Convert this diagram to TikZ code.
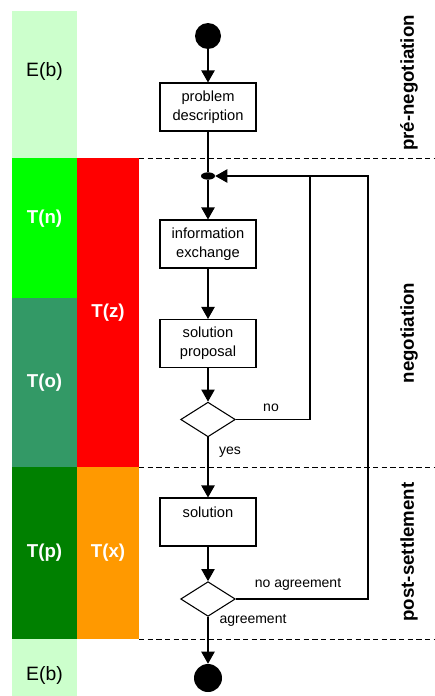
\documentclass[tikz,border=0pt]{standalone}
\usepackage{fontspec}
\setmainfont{Liberation Sans}
\usetikzlibrary{shapes.geometric, arrows.meta, positioning, calc}
\definecolor{ebpale}{HTML}{CCFFCC}
\definecolor{tnlime}{HTML}{00FF00}
\definecolor{toteal}{HTML}{339966}
\definecolor{tzred}{HTML}{FF0000}
\definecolor{tpgreen}{HTML}{008000}
\definecolor{txorange}{HTML}{FF9900}

\begin{document}
\begin{tikzpicture}[x=0.75pt, y=-0.75pt,
    activity/.style={rectangle, draw=black, line width=0.8pt, minimum width=72pt, minimum height=36pt, inner sep=1pt, align=center, font=\fontsize{11}{14.5}\selectfont},
    decision/.style={diamond, draw=black, line width=0.8pt, minimum width=41pt, minimum height=26pt, inner sep=0pt},
    terminal/.style={circle, fill=black, minimum size=#1, inner sep=0pt},
    merge/.style={ellipse, fill=black, minimum width=10.5pt, minimum height=5.5pt, inner sep=0pt},
    flow/.style={-{Triangle[length=9pt, width=10pt]}, line width=0.8pt},
    line/.style={line width=0.8pt},
    phase/.style={font=\fontsize{14}{16}\selectfont\bfseries, rotate=90},
    band/.style={font=\fontsize{14}{16}\selectfont\bfseries, text=white},
    eband/.style={font=\fontsize{14.5}{16}\selectfont},
    cond/.style={font=\fontsize{10.5}{12}\selectfont},
    divider/.style={dash pattern=on 4pt off 2.5pt, line width=0.75pt}
]
\useasboundingbox (0,0) rectangle (435,696);

% Colour bands
\fill[ebpale] (12,11) rectangle (77,158);
\fill[tnlime] (12,158) rectangle (77,298);
\fill[toteal] (12,298) rectangle (77,467);
\fill[tzred] (77,158) rectangle (139,467);
\fill[tpgreen] (12,467) rectangle (77,639);
\fill[txorange] (77,467) rectangle (139,639);
\fill[ebpale] (12,639) rectangle (77,696);

\node[eband] (ebtop) at (44.5,71) {E(b)};
\node[band] (tn) at (44.5,219) {T(n)};
\node[band] (to) at (44.5,383) {T(o)};
\node[band] (tz) at (108,313) {T(z)};
\node[band] (tp) at (44.5,553) {T(p)};
\node[band] (tx) at (108,553) {T(x)};
\node[eband] (ebbot) at (44.5,675) {E(b)};

% Phase dividers
\draw[divider] (139,158) -- (435,158);
\draw[divider] (139,467) -- (435,467);
\draw[divider] (139,639) -- (435,639);

\node[phase] (pre) at (409,83) {pré-negotiation};
\node[phase] (nego) at (409,333) {negotiation};
\node[phase] (post) at (409,552) {post-settlement};

% Activities
\node[terminal=19.5pt] (start) at (208,36) {};
\node[activity] (problem) at (208,107) {problem\\description};
\node[merge] (join) at (208,176) {};
\node[activity] (info) at (208,244) {information\\exchange};
\node[activity] (proposal) at (208,343.5) {solution\\proposal};
\node[decision] (check) at (208,419.5) {};
\node[activity] (solution) at (208,522) {solution\\~};
\node[decision] (accept) at (208,599) {};
\node[terminal=21pt] (stop) at (208,678) {};

% Flow
\draw[flow] (start) -- (problem);
\draw[line] (problem) -- (join);
\draw[flow] (join) -- (info);
\draw[flow] (info) -- (proposal);
\draw[flow] (proposal) -- (check);
\draw[flow] (check) -- (solution);
\draw[flow] (solution) -- (accept);
\draw[flow] (accept) -- (stop);

% Loops back
\coordinate (loopin) at (310,176);
\coordinate (loopout) at (368,176);
\draw[line] (check.east) -| (loopin);
\draw[flow] (accept.east) -| (loopout) -- (join.east);

% Conditions
\node[cond] (no) at (271,408) {no};
\node[cond] (yes) at (230,452) {yes};
\node[cond] (noagree) at (298,584) {no agreement};
\node[cond] (agree) at (253,620) {agreement};

\end{tikzpicture}
\end{document}
